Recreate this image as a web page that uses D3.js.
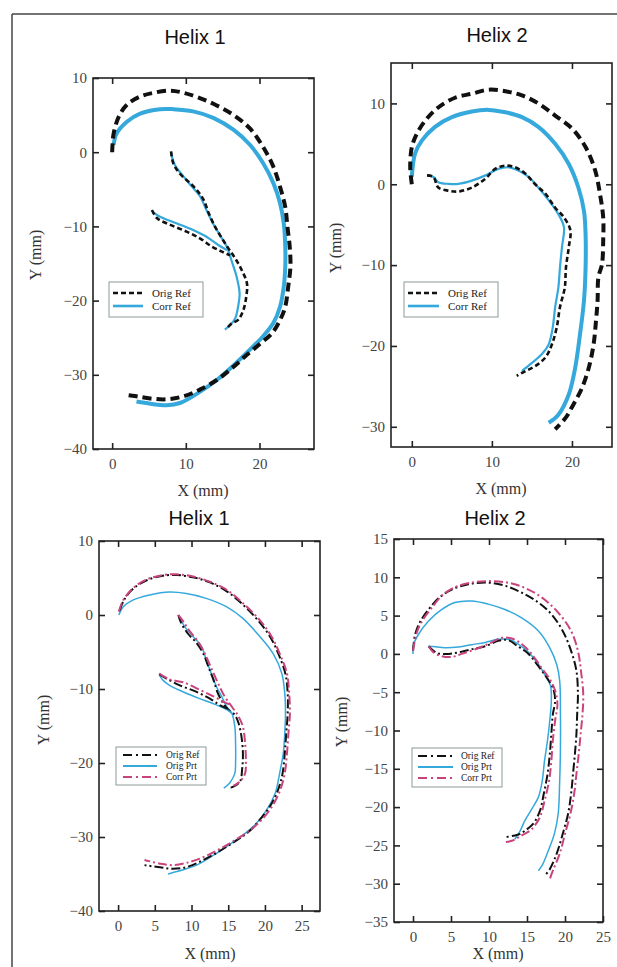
<!DOCTYPE html>
<html><head><meta charset="utf-8">
<script src="https://cdn.jsdelivr.net/npm/d3@7"></script>
<style>body{margin:0;background:#fff}svg{display:block}</style>
</head><body>
<script>
// ---------- DATA (mm) ----------
// Panel 1: Helix 1 (top)
const h1OrigRefOuter = [[0,0],[0.05,1.0],[0.2,2.5],[0.9,4.8],[2.0,6.4],[3.8,7.5],[5.6,8.0],[7.9,8.3],[9.7,8.0],[11.9,7.3],[14.2,6.3],[16.5,5.0],[18.7,3.2],[20.5,0.7],[21.9,-2.0],[22.8,-4.7],[23.5,-7.4],[23.8,-10.1],[24.1,-12.7],[24.2,-15.4],[23.9,-18.1],[23.5,-20.8],[22.8,-22.6],[21.7,-24.4],[20.1,-25.8],[18.3,-27.3],[16.5,-28.9],[14.2,-30.7],[11.9,-32.0],[9.7,-32.9],[7.4,-33.3],[5.2,-33.2],[3.3,-32.9],[1.9,-32.7]];
const h1CorrRefOuter = [[0.2,1.0],[0.6,2.5],[2.0,4.1],[3.8,5.2],[6.5,5.8],[8.3,5.8],[11.0,5.5],[13.8,4.6],[16.5,3.0],[18.7,1.0],[20.5,-1.5],[21.9,-4.2],[22.8,-6.9],[23.3,-9.6],[23.5,-12.7],[23.5,-15.4],[23.3,-18.1],[22.8,-20.8],[21.9,-23.0],[20.5,-24.8],[18.7,-26.6],[16.5,-28.7],[14.2,-30.7],[11.9,-32.3],[9.2,-33.8],[7.4,-34.1],[5.2,-33.9],[3.3,-33.6]];
const h1OrigRefInnerA = [[8.0,0.1],[8.3,-1.5],[9.2,-2.9],[10.4,-4.0],[11.5,-5.1],[12.4,-6.4],[13.1,-8.2],[14.0,-10.1],[14.9,-11.6],[15.8,-13.0],[16.7,-14.3],[17.6,-15.9],[18.3,-17.7],[18.2,-19.5],[17.8,-21.3],[17.1,-22.6],[16.2,-23.1],[15.6,-23.7]];
const h1CorrRefInnerA = [[8.0,-0.1],[8.5,-1.7],[9.7,-3.3],[10.8,-4.6],[11.9,-5.9],[12.8,-7.8],[13.7,-9.6],[14.7,-11.3],[15.6,-12.8],[16.2,-14.6],[16.9,-16.8],[17.3,-19.1],[17.1,-20.8],[16.7,-22.4],[16.0,-23.3],[15.3,-23.9]];
const h1OrigRefInnerB = [[5.4,-7.8],[6.1,-8.9],[7.9,-9.8],[10.1,-10.7],[11.9,-11.6],[13.5,-12.7],[14.9,-13.4],[16.0,-13.9]];
const h1CorrRefInnerB = [[5.6,-8.1],[6.5,-8.7],[8.8,-9.6],[11.0,-10.5],[12.8,-11.4],[14.4,-12.5],[15.6,-13.2]];

// Panel 2: Helix 2 (top)
const h2OrigRefOuter = [[0,0],[-0.2,2.1],[0,4.6],[0.6,6.2],[1.7,7.9],[3.3,9.5],[5.4,10.7],[7.5,11.2],[9.6,11.7],[11.7,11.5],[13.75,11.0],[15.8,10.0],[17.9,8.5],[20.0,6.9],[21.7,4.6],[22.9,1.7],[23.5,-1.2],[23.9,-4.1],[23.9,-7.0],[23.75,-9.9],[23.3,-11.5],[23.2,-14.4],[23.0,-16.9],[22.7,-19.8],[22.1,-22.7],[21.25,-25.2],[20.2,-27.2],[19.2,-28.9],[17.9,-30.3]];
const h2CorrRefOuter = [[0,0.9],[0.4,3.8],[1.25,5.4],[2.9,7.1],[5.0,8.3],[7.5,9.0],[9.6,9.2],[11.7,8.9],[13.75,8.3],[15.8,7.1],[17.9,5.0],[19.6,2.5],[20.8,-0.4],[21.5,-3.3],[21.7,-6.2],[21.7,-10.3],[21.5,-14.4],[21.0,-18.6],[20.4,-22.7],[19.6,-26.0],[18.3,-28.5],[17.1,-29.5]];
const h2OrigRefInner = [[1.9,1.1],[2.7,0.9],[3.3,-0.4],[4.6,-0.8],[5.8,-0.9],[7.5,-0.4],[9.2,0.7],[10.4,1.9],[11.7,2.3],[12.9,2.1],[14.2,1.3],[15.4,0.0],[16.7,-1.2],[17.9,-2.9],[19.0,-4.1],[19.8,-5.7],[19.6,-7.8],[19.25,-10.3],[19.1,-12.8],[18.5,-15.2],[18.1,-17.7],[17.5,-19.8],[16.7,-21.4],[15.4,-22.5],[14.2,-23.1],[13.1,-23.7]];
const h2CorrRefInner = [[1.9,1.1],[2.7,0.9],[3.3,0.25],[4.6,0.05],[5.8,0.05],[7.5,0.45],[9.2,1.1],[10.8,1.9],[12.1,2.1],[13.3,1.7],[14.6,0.9],[15.8,-0.4],[17.1,-2.0],[18.3,-3.7],[19.0,-5.3],[18.75,-7.8],[18.5,-10.3],[18.3,-12.8],[17.9,-15.2],[17.6,-17.7],[17.1,-19.8],[16.25,-21.0],[15.0,-22.1],[13.75,-23.1]];

// Panel 3: Helix 1 (bottom)
const h1bOrigRefOuter = [[0.2,0.6],[0.8,2.0],[2.0,3.5],[3.9,4.7],[6.1,5.3],[8.0,5.4],[10.2,5.1],[12.5,4.4],[14.8,3.2],[17.0,1.4],[19.2,-0.9],[20.8,-3.1],[21.9,-5.4],[22.8,-8.0],[23.1,-10.6],[23.1,-13.3],[22.9,-16.0],[22.7,-18.7],[22.4,-21.4],[21.8,-23.6],[20.9,-25.5],[19.6,-27.3],[17.9,-29.2],[15.6,-30.8],[13.3,-32.2],[11.0,-33.4],[9.2,-34.1],[7.5,-34.3],[5.7,-34.1],[3.6,-33.8]];
const h1bCorrPrtOuter = [[0.1,0.45],[0.7,2.0],[2.0,3.6],[3.9,4.8],[6.1,5.4],[8.0,5.5],[10.2,5.2],[12.5,4.5],[14.8,3.4],[17.0,1.6],[19.3,-0.7],[20.9,-2.9],[22.0,-5.2],[23.0,-7.9],[23.3,-10.6],[23.4,-13.3],[23.2,-16.0],[23.0,-18.7],[22.7,-21.4],[22.1,-23.6],[21.2,-25.5],[19.9,-27.3],[18.1,-29.0],[15.8,-30.5],[13.5,-31.8],[11.2,-32.9],[9.3,-33.5],[7.5,-33.8],[5.7,-33.6],[3.6,-33.1]];
const h1bOrigPrtOuter = [[0.1,0],[0.7,1.1],[2.0,2.0],[4.3,2.7],[7.0,3.1],[9.3,2.9],[12.0,2.25],[14.8,1.1],[17.0,-0.45],[19.3,-2.9],[21.1,-5.2],[22.3,-7.9],[22.7,-10.6],[22.8,-13.3],[22.7,-16.0],[22.5,-18.7],[22.0,-21.4],[21.4,-24.1],[20.2,-26.4],[18.4,-28.6],[16.1,-30.4],[13.4,-32.2],[11.1,-33.6],[9.3,-34.3],[7.5,-34.8],[6.8,-35.0]];
const h1bOrigRefInnerA = [[8.2,0],[8.6,-1.1],[9.5,-2.5],[10.7,-3.8],[11.6,-5.2],[12.3,-7.0],[13.0,-8.8],[13.6,-10.6],[14.3,-11.9],[15.0,-12.8],[15.9,-13.5],[16.4,-14.6],[16.8,-16.4],[17.0,-18.7],[16.9,-20.8],[16.6,-22.5],[15.7,-23.2],[15.0,-23.4]];
const h1bCorrPrtInnerA = [[8.2,0],[8.9,-0.9],[9.8,-2.25],[10.9,-3.6],[11.8,-5.2],[12.7,-7.2],[13.6,-9.2],[14.5,-11.0],[15.5,-12.4],[16.4,-13.7],[17.0,-15.1],[17.3,-17.3],[17.4,-19.6],[17.3,-21.4],[16.6,-22.5],[15.7,-23.1]];
const h1bOrigPrtInnerA = [[8.3,-0.2],[9.1,-1.6],[10.2,-2.9],[11.4,-4.3],[12.0,-6.1],[12.7,-7.9],[13.4,-9.7],[14.1,-11.0],[14.8,-12.4],[15.5,-13.3],[15.9,-15.1],[16.0,-17.3],[16.0,-20.0],[15.9,-21.4],[15.2,-22.7],[14.4,-23.4]];
const h1bOrigRefInnerB = [[5.6,-8.0],[6.6,-8.6],[8.4,-9.5],[10.7,-10.4],[12.5,-11.3],[13.9,-12.2],[15.2,-12.8]];
const h1bCorrPrtInnerB = [[5.6,-7.9],[7.0,-8.7],[8.9,-9.1],[11.1,-10.1],[13.0,-11.0],[14.3,-11.7],[15.5,-12.2]];
const h1bOrigPrtInnerB = [[5.6,-8.1],[6.1,-8.8],[7.0,-9.5],[8.9,-10.4],[11.1,-11.3],[13.0,-12.0],[14.8,-12.8],[15.5,-13.3]];

// Panel 4: Helix 2 (bottom)
const h2bOrigRefOuter = [[0,0.4],[0.3,2.6],[1.0,4.3],[2.05,5.8],[3.4,7.3],[5.1,8.4],[7.3,9.1],[9.9,9.3],[12.1,8.9],[14.3,8.0],[16.5,6.7],[18.2,5.2],[19.7,3.0],[20.8,0.4],[21.5,-2.2],[21.7,-5.3],[21.6,-7.9],[21.5,-10.5],[21.3,-13.1],[21.05,-15.7],[20.8,-18.3],[20.4,-20.9],[19.7,-23.5],[18.9,-26.1],[18.0,-28.1],[17.3,-29.0]];
const h2bCorrPrtOuter = [[0,0.4],[0.5,2.8],[1.2,4.3],[2.3,5.8],[3.8,7.6],[5.5,8.7],[7.7,9.3],[10.3,9.5],[13.0,9.2],[15.2,8.4],[17.3,7.1],[19.1,5.4],[20.8,3.0],[21.7,0.4],[22.1,-2.2],[22.4,-5.3],[22.3,-7.9],[22.05,-10.5],[21.8,-13.1],[21.5,-15.7],[21.2,-18.3],[20.7,-20.9],[20.0,-23.5],[19.3,-26.1],[18.4,-28.3],[18.0,-29.4]];
const h2bOrigPrtOuter = [[0,0],[0.1,1.3],[0.75,2.6],[2.05,4.3],[3.8,5.8],[5.5,6.7],[7.7,6.9],[9.9,6.5],[12.1,5.8],[14.3,4.7],[16.5,3.0],[18.0,0.8],[18.9,-1.35],[19.3,-3.5],[19.4,-7.9],[19.4,-12.2],[19.3,-16.6],[19.1,-20.9],[18.6,-23.5],[17.8,-25.7],[17.1,-27.4],[16.5,-28.3]];
const h2bOrigRefInner = [[2.05,1.0],[2.7,0.4],[3.4,0.04],[4.7,0],[6.0,0.2],[7.7,0.6],[9.5,1.0],[11.2,1.7],[12.5,1.8],[13.8,1.0],[15.2,0],[16.5,-1.6],[17.6,-3.1],[18.4,-4.4],[18.7,-6.1],[18.4,-7.9],[18.2,-10.5],[18.0,-13.1],[17.7,-15.7],[17.2,-18.3],[16.7,-20.5],[15.8,-22.2],[14.7,-23.1],[14.1,-23.5],[13.4,-23.7],[12.3,-23.9]];
const h2bCorrPrtInner = [[2.05,1.0],[2.7,0.2],[3.8,-0.3],[5.1,-0.4],[6.4,0],[8.2,0.6],[9.9,1.3],[11.7,2.1],[13.0,2.0],[14.3,1.3],[15.6,0],[16.9,-1.8],[18.0,-3.3],[18.7,-4.8],[19.0,-6.6],[18.7,-8.7],[18.4,-11.3],[18.2,-14.0],[17.9,-16.6],[17.3,-19.2],[16.7,-21.3],[15.6,-22.9],[14.3,-23.7],[13.0,-24.4],[12.0,-24.6]];
const h2bOrigPrtInner = [[2.05,1.0],[2.7,0.96],[4.2,0.8],[6.0,0.9],[7.7,1.2],[9.5,1.5],[11.2,1.9],[12.5,1.9],[13.8,1.3],[15.2,0.2],[16.5,-1.35],[17.3,-2.65],[18.1,-4.2],[18.2,-6.1],[18.0,-8.7],[17.7,-11.3],[17.3,-14.0],[17.0,-16.6],[16.5,-18.7],[15.6,-20.3],[14.7,-21.8],[14.1,-23.1],[13.4,-24.2]];

// Ticks and labels
const titles = ["Helix 1","Helix 2","Helix 1","Helix 2"];
const xTicksTop = [0,10,20];
const yTicksH1 = [10,0,-10,-20,-30,-40];
const yTicksH2 = [10,0,-10,-20,-30];
const xTicksBottom = [0,5,10,15,20,25];
const yTicksH1b = [10,0,-10,-20,-30,-40];
const yTicksH2b = [15,10,5,0,-5,-10,-15,-20,-25,-30,-35];
const legendTop = ["Orig Ref","Corr Ref"];
const legendBottom = ["Orig Ref","Orig Prt","Corr Prt"];
const xLabel = "X (mm)", yLabel = "Y (mm)";

// ---------- STYLES ----------
const BLUE = "#35a8dc", PINK = "#c9447c", BLACK = "#111";
const sty = {
  origOuter:{stroke:BLACK,w:4,dash:"9,5"},
  corrOuter:{stroke:BLUE,w:4,dash:null},
  origInner:{stroke:BLACK,w:2.6,dash:"5,3"},
  corrInner:{stroke:BLUE,w:2.2,dash:null},
  refDD:{stroke:BLACK,w:2,dash:"9,3,2,3"},
  prt:{stroke:BLUE,w:1.5,dash:null},
  corrDD:{stroke:PINK,w:2,dash:"9,3,2,3"}
};

const panels = [
  {L:93,R:314,T:78,B:449,xd:[-2.6,27.4],yd:[-40,10],xt:xTicksTop,yt:yTicksH1,title:[195,37],ylab:[35,255],xlab:[203,490],
   series:[[h1CorrRefOuter,sty.corrOuter],[h1OrigRefOuter,sty.origOuter],[h1CorrRefInnerA,sty.corrInner],[h1OrigRefInnerA,sty.origInner],[h1CorrRefInnerB,sty.corrInner],[h1OrigRefInnerB,sty.origInner]],
   legend:{x:109,y:282,w:94,h:35,rows:[293,306],lx:[113,143],tx:152,fs:11,items:[[legendTop[0],{stroke:BLACK,w:2.6,dash:"5,3"}],[legendTop[1],{stroke:BLUE,w:2.6,dash:null}]]}},
  {L:391,R:612,T:63,B:447,xd:[-2.6,25],yd:[-32.5,15],xt:xTicksTop,yt:yTicksH2,title:[497,35],ylab:[335,248],xlab:[501,488],
   series:[[h2CorrRefOuter,sty.corrOuter],[h2OrigRefOuter,sty.origOuter],[h2CorrRefInner,sty.corrInner],[h2OrigRefInner,sty.origInner]],
   legend:{x:404,y:282,w:94,h:35,rows:[293,306],lx:[408,439],tx:448,fs:11,items:[[legendTop[0],{stroke:BLACK,w:2.6,dash:"5,3"}],[legendTop[1],{stroke:BLUE,w:2.6,dash:null}]]}},
  {L:99,R:320,T:541,B:911,xd:[-2.6,27.5],yd:[-40,10],xt:xTicksBottom,yt:yTicksH1b,title:[199,518],ylab:[43,720],xlab:[210,953],
   series:[[h1bOrigPrtOuter,sty.prt],[h1bOrigRefOuter,sty.refDD],[h1bCorrPrtOuter,sty.corrDD],[h1bOrigPrtInnerA,sty.prt],[h1bOrigRefInnerA,sty.refDD],[h1bCorrPrtInnerA,sty.corrDD],[h1bOrigPrtInnerB,sty.prt],[h1bOrigRefInnerB,sty.refDD],[h1bCorrPrtInnerB,sty.corrDD]],
   legend:{x:116,y:747,w:90,h:38,rows:[755,766,777],lx:[123,157],tx:166,fs:9.5,items:[[legendBottom[0],{stroke:BLACK,w:2.2,dash:"9,4,2,4"}],[legendBottom[1],{stroke:BLUE,w:2,dash:null}],[legendBottom[2],{stroke:PINK,w:2.2,dash:"9,4,2,4"}]]}},
  {L:394,R:603,T:539,B:922,xd:[-2.5,25],yd:[-35,15],xt:xTicksBottom,yt:yTicksH2b,title:[495,518],ylab:[341,722],xlab:[498,953],
   series:[[h2bOrigPrtOuter,sty.prt],[h2bOrigRefOuter,sty.refDD],[h2bCorrPrtOuter,sty.corrDD],[h2bOrigPrtInner,sty.prt],[h2bOrigRefInner,sty.refDD],[h2bCorrPrtInner,sty.corrDD]],
   legend:{x:412,y:748,w:90,h:39,rows:[756,767,778],lx:[418,453],tx:461,fs:9.5,items:[[legendBottom[0],{stroke:BLACK,w:2.2,dash:"9,4,2,4"}],[legendBottom[1],{stroke:BLUE,w:2,dash:null}],[legendBottom[2],{stroke:PINK,w:2.2,dash:"9,4,2,4"}]]}}
];

// ---------- DRAW ----------
const W = 617, H = 967;
const svg = d3.select("body").append("svg").attr("width",W).attr("height",H);
svg.append("rect").attr("width",W).attr("height",H).attr("fill","#fff");
svg.append("line").attr("x1",12).attr("y1",14).attr("x2",W).attr("y2",14).attr("stroke","#444").attr("stroke-width",1.5);
svg.append("line").attr("x1",12).attr("y1",14).attr("x2",12).attr("y2",H).attr("stroke","#444").attr("stroke-width",1.5);

const SERIF = "'Liberation Serif','DejaVu Serif',serif";
const SANS = "'Liberation Sans',Arial,sans-serif";

panels.forEach((p,i)=>{
  const g = svg.append("g");
  const x = d3.scaleLinear().domain(p.xd).range([p.L,p.R]);
  const y = d3.scaleLinear().domain(p.yd).range([p.B,p.T]);
  const styleAxis = sel => {
    sel.select(".domain").remove();
    sel.selectAll(".tick line").attr("stroke","#222").attr("stroke-width",1.6);
    sel.selectAll(".tick text").attr("font-family",SERIF).attr("font-size",15).attr("fill","#444");
  };
  g.append("g").attr("transform",`translate(0,${p.B})`).call(d3.axisBottom(x).tickValues(p.xt).tickSize(-6).tickPadding(9).tickFormat(d3.format(""))).call(styleAxis);
  g.append("g").attr("transform",`translate(0,${p.T})`).call(d3.axisTop(x).tickValues(p.xt).tickSize(-6).tickFormat("")).call(styleAxis);
  g.append("g").attr("transform",`translate(${p.L},0)`).call(d3.axisLeft(y).tickValues(p.yt).tickSize(-6).tickPadding(6).tickFormat(d3.format(""))).call(styleAxis);
  g.append("g").attr("transform",`translate(${p.R},0)`).call(d3.axisRight(y).tickValues(p.yt).tickSize(-6).tickFormat("")).call(styleAxis);
  g.append("rect").attr("x",p.L).attr("y",p.T).attr("width",p.R-p.L).attr("height",p.B-p.T)
    .attr("fill","none").attr("stroke","#222").attr("stroke-width",1.6);

  const line = d3.line().x(d=>x(d[0])).y(d=>y(d[1])).curve(d3.curveCatmullRom.alpha(0.5));
  p.series.forEach(([data,s])=>{
    g.append("path").attr("d",line(data)).attr("fill","none").attr("stroke",s.stroke)
      .attr("stroke-width",s.w).attr("stroke-dasharray",s.dash).attr("stroke-linejoin","round");
  });

  // legend
  const lg = p.legend;
  g.append("rect").attr("x",lg.x).attr("y",lg.y).attr("width",lg.w).attr("height",lg.h)
    .attr("fill","#fff").attr("stroke","#8a9a9a").attr("stroke-width",1);
  lg.items.forEach(([label,s],k)=>{
    g.append("line").attr("x1",lg.lx[0]).attr("x2",lg.lx[1]).attr("y1",lg.rows[k]).attr("y2",lg.rows[k])
      .attr("stroke",s.stroke).attr("stroke-width",s.w).attr("stroke-dasharray",s.dash);
    g.append("text").attr("x",lg.tx).attr("y",lg.rows[k]).attr("dy","0.35em").text(label)
      .attr("font-family",SERIF).attr("font-size",lg.fs).attr("fill","#222");
  });

  // titles & labels
  g.append("text").attr("x",p.title[0]).attr("y",p.title[1]).attr("dy","0.35em").attr("text-anchor","middle")
    .attr("font-family",SANS).attr("font-size",20).attr("fill","#111").text(titles[i]);
  g.append("text").attr("transform",`translate(${p.ylab[0]},${p.ylab[1]}) rotate(-90)`).attr("dy","0.35em")
    .attr("text-anchor","middle").attr("font-family",SERIF).attr("font-size",16).attr("fill","#333").text(yLabel);
  g.append("text").attr("x",p.xlab[0]).attr("y",p.xlab[1]).attr("dy","0.35em").attr("text-anchor","middle")
    .attr("font-family",SERIF).attr("font-size",16).attr("fill","#333").text(xLabel);
});
</script>
</body></html>
